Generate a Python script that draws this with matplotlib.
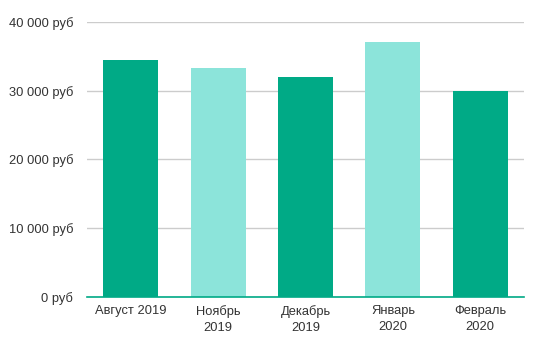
import matplotlib.pyplot as plt
from matplotlib.ticker import FuncFormatter

months = ["Август 2019", "Ноябрь\n2019", "Декабрь\n2019", "Январь\n2020", "Февраль\n2020"]
revenue = [34500, 33300, 32000, 37000, 30000]
bar_colors = ["#00aa86", "#8ce4da", "#00aa86", "#8ce4da", "#00aa86"]
y_ticks = [0, 10000, 20000, 30000, 40000]

plt.rcParams["font.family"] = ["Liberation Sans", "DejaVu Sans"]

fig = plt.figure(figsize=(5.55, 3.47), dpi=100)
ax = fig.add_axes([0.157, 0.144, 0.787, 0.793])

x = range(len(months))
ax.bar(x, revenue, width=0.63, color=bar_colors, zorder=2)

ax.set_xlim(-0.5, len(months) - 0.5)
ax.set_ylim(0, 40000)
ax.set_yticks(y_ticks)
ax.yaxis.set_major_formatter(FuncFormatter(lambda v, _: f"{int(v):,}".replace(",", " ") + " руб"))
ax.set_xticks(list(x))
ax.set_xticklabels(months)

ax.grid(axis="y", color="#cccccc", linewidth=1, zorder=0)
for side in ("top", "right", "left"):
    ax.spines[side].set_visible(False)
ax.spines["bottom"].set_color("#00aa86")
ax.spines["bottom"].set_linewidth(1.2)
ax.spines["bottom"].set_zorder(3)

ax.tick_params(axis="both", length=0, labelsize=9.3, colors="#333333")
ax.tick_params(axis="y", pad=10)
ax.tick_params(axis="x", pad=6)
for lbl in ax.get_xticklabels():
    lbl.set_linespacing(1.45)

fig.savefig("out.png", dpi=100)
